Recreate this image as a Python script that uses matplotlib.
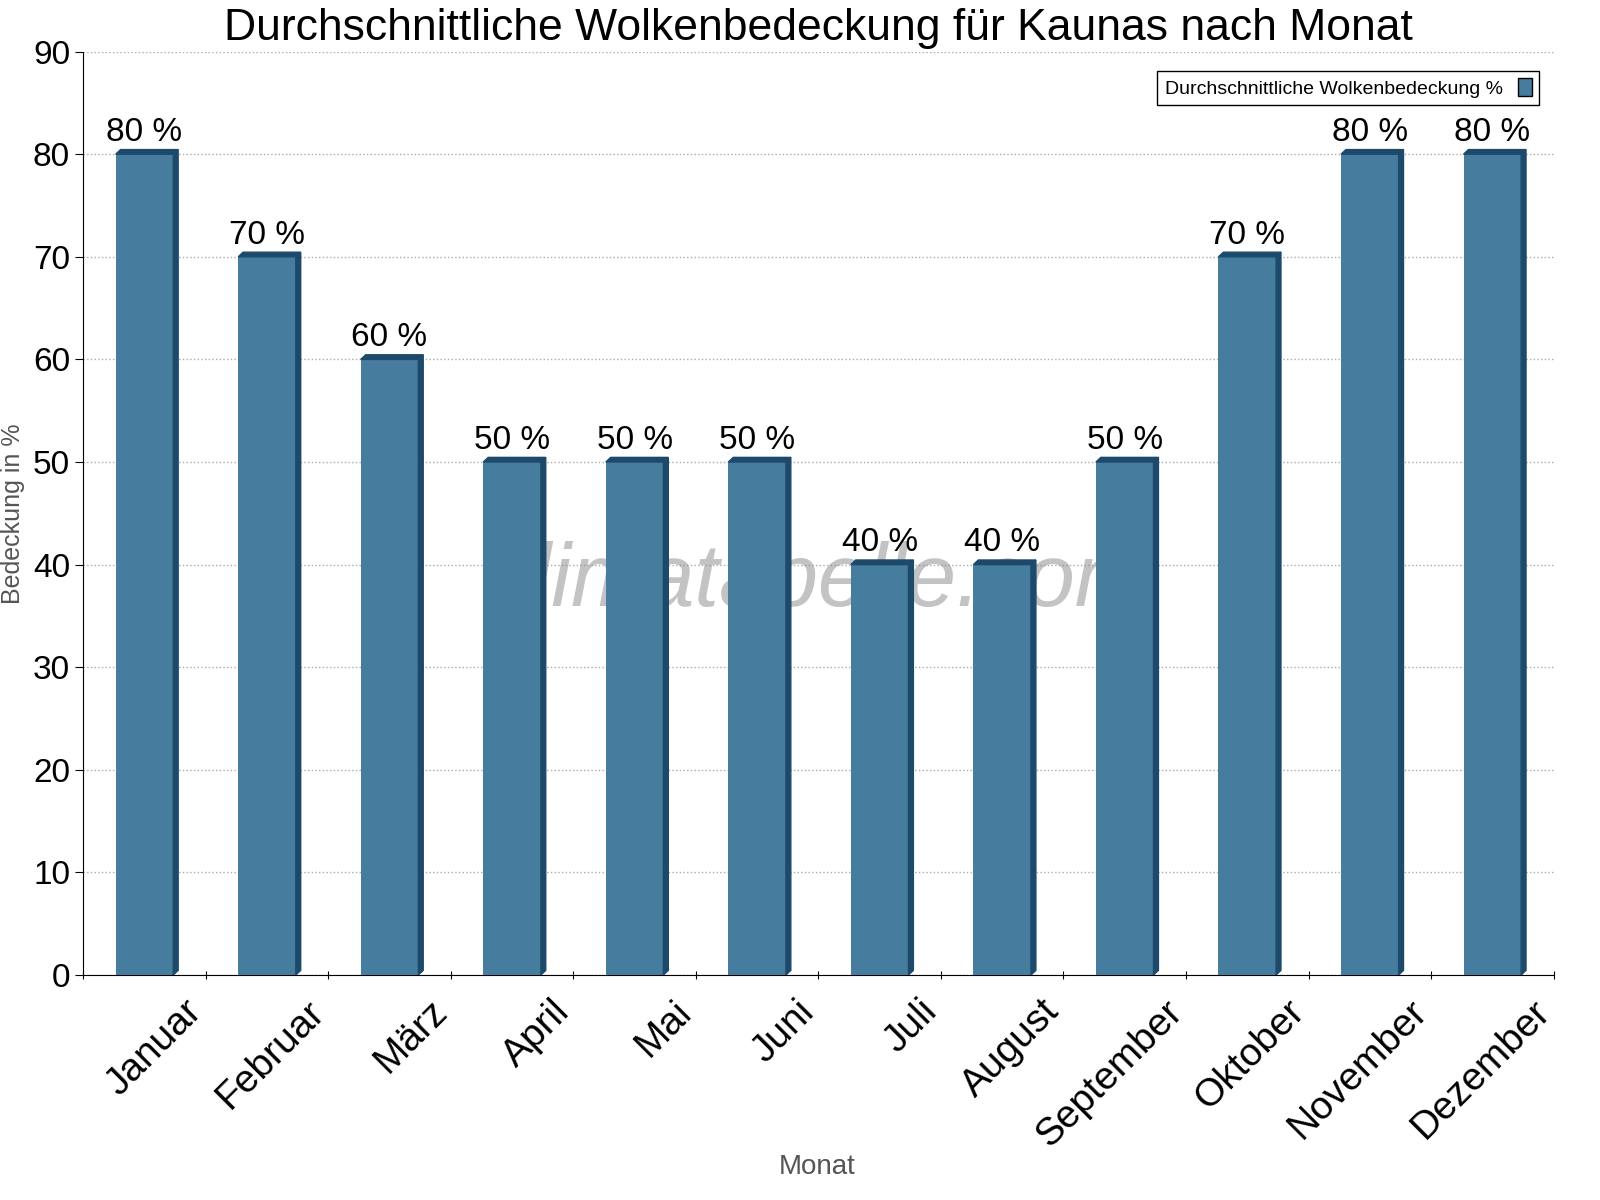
import matplotlib
matplotlib.use("Agg")
import matplotlib.pyplot as plt
from matplotlib.patches import Polygon, Patch

plt.rcParams['font.family'] = 'Liberation Sans'

# --- data ---
months = ['Januar', 'Februar', 'März', 'April', 'Mai', 'Juni', 'Juli',
          'August', 'September', 'Oktober', 'November', 'Dezember']
cover = [80, 70, 60, 50, 50, 50, 40, 40, 50, 70, 80, 80]

FRONT = '#467c9e'
DARK = '#1d4a6b'

fig = plt.figure(figsize=(16, 12), dpi=100)
ax = fig.add_axes([0.052, 0.1875, 0.919, 0.7695])

w = 0.47
dx, dy = 0.04, 0.45
for i, v in enumerate(cover):
    x0 = i + 0.5 - w / 2
    x1 = x0 + w
    ax.bar(x0, v, width=w, align='edge', color=FRONT, zorder=3)
    ax.add_patch(Polygon([(x1, 0), (x1 + dx, dy), (x1 + dx, v + dy), (x1, v)],
                         closed=True, color=DARK, zorder=3))
    ax.add_patch(Polygon([(x0, v), (x0 + dx, v + dy), (x1 + dx, v + dy), (x1, v)],
                         closed=True, color=DARK, zorder=3))
    ax.text(i + 0.5, v + 0.6, f'{v} %', ha='center', va='bottom', fontsize=24, zorder=4)

ax.set_xlim(0, 12)
ax.set_ylim(0, 90)
ax.set_yticks(range(0, 91, 10))
ax.tick_params(axis='y', labelsize=24, length=6)
ax.set_xticks(range(0, 13))
ax.set_xticklabels([])
ax.tick_params(axis='x', length=6, direction='inout')
for i, m in enumerate(months):
    ax.text(i + 0.82, -1.8, m, rotation=45, ha='right', va='top',
            rotation_mode='anchor', fontsize=28)

ax.grid(axis='y', linestyle=':', color='#aaaaaa', linewidth=1, zorder=0)
ax.spines['top'].set_visible(False)
ax.spines['right'].set_visible(False)

ax.set_title('Durchschnittliche Wolkenbedeckung für Kaunas nach Monat', fontsize=32, pad=8)
ax.set_ylabel('Bedeckung in %', fontsize=18, color='#555555', labelpad=6)
fig.text(0.511, 0.022, 'Monat', fontsize=20, color='#555555', ha='center')

ax.text(0.5, 0.425, 'klimatabelle.com', transform=ax.transAxes, ha='center', va='center',
        fontsize=64, style='italic', color='#888888', alpha=0.5, zorder=2)

leg = ax.legend([Patch(facecolor=FRONT, edgecolor='black')],
                ['Durchschnittliche Wolkenbedeckung %'], loc='upper right',
                bbox_to_anchor=(0.997, 0.99), fontsize=14, fancybox=False,
                framealpha=1, edgecolor='black', markerfirst=False,
                handlelength=0.7, handleheight=1.0)

fig.savefig('out.png')
